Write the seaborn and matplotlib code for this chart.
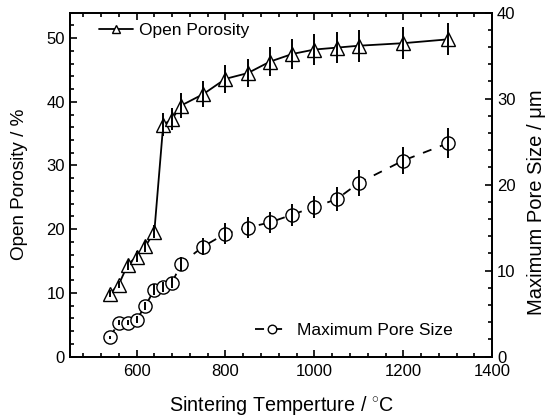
import matplotlib
matplotlib.use('Agg')
import matplotlib.pyplot as plt
import seaborn as sns
from matplotlib.ticker import MultipleLocator

# data
temperature = [540, 560, 580, 600, 620, 640, 660, 680, 700, 750, 800, 850, 900, 950, 1000, 1050, 1100, 1200, 1300]
porosity = [9.9, 11.3, 14.4, 15.7, 17.3, 19.6, 36.4, 37.3, 39.4, 41.2, 43.6, 44.5, 46.3, 47.5, 48.2, 48.5, 48.8, 49.2, 49.8]
porosity_err = [0.5, 0.6, 0.8, 0.8, 0.9, 1.0, 1.8, 1.8, 1.9, 2.0, 2.2, 2.2, 2.3, 2.4, 2.4, 2.4, 2.5, 2.5, 2.5]
pore_size = [2.25, 3.95, 3.95, 4.3, 5.9, 7.8, 8.1, 8.6, 10.8, 12.8, 14.3, 15.0, 15.6, 16.5, 17.4, 18.3, 20.2, 22.8, 24.8]
pore_err = [0.2, 0.3, 0.3, 0.4, 0.5, 0.6, 0.6, 0.6, 0.8, 1.0, 1.2, 1.2, 1.2, 1.3, 1.3, 1.4, 1.5, 1.6, 1.75]

sns.set_style('ticks')
plt.rcParams['font.family'] = ['Liberation Sans', 'DejaVu Sans']
plt.rcParams['mathtext.fontset'] = 'custom'
plt.rcParams['mathtext.rm'] = 'Liberation Sans'
plt.rcParams['text.color'] = 'black'
plt.rcParams['axes.labelcolor'] = 'black'
plt.rcParams['xtick.color'] = 'black'
plt.rcParams['ytick.color'] = 'black'

fig = plt.figure(figsize=(5.5, 4.2), dpi=100)
ax = fig.add_axes([0.127, 0.151, 0.768, 0.819])
ax2 = ax.twinx()

# open porosity (left axis)
sns.lineplot(x=temperature, y=porosity, ax=ax, color='black', lw=1.3, marker='^', markersize=9.5,
             markerfacecolor='white', markeredgecolor='black', markeredgewidth=1.0, label='Open Porosity')
ax.errorbar(temperature, porosity, yerr=porosity_err, fmt='none', ecolor='black', elinewidth=1.4, capsize=0, zorder=5)

# max pore size (right axis)
sns.lineplot(x=temperature, y=pore_size, ax=ax2, color='black', lw=1.3, marker='o', markersize=9.5,
             markerfacecolor='white', markeredgecolor='black', markeredgewidth=1.0, label='Maximum Pore Size')
ax2.lines[0].set_dashes([5, 5])
ax2.errorbar(temperature, pore_size, yerr=pore_err, fmt='none', ecolor='black', elinewidth=1.4, capsize=0, zorder=5)

ax.set_xlim(450, 1400)
ax.set_ylim(0, 54)
ax2.set_ylim(0, 40)

ax.xaxis.set_major_locator(MultipleLocator(200))
ax.xaxis.set_minor_locator(MultipleLocator(40))
ax.yaxis.set_major_locator(MultipleLocator(10))
ax.yaxis.set_minor_locator(MultipleLocator(2))
ax2.yaxis.set_major_locator(MultipleLocator(10))
ax2.yaxis.set_minor_locator(MultipleLocator(2))

ax.tick_params(which='both', direction='in', top=True, labelsize=12, width=1.2)
ax.tick_params(which='major', length=5)
ax.tick_params(which='minor', length=3)
ax.tick_params(axis='x', pad=5)
ax2.tick_params(which='both', direction='in', labelsize=12, width=1.2)
ax2.tick_params(which='major', length=5)
ax2.tick_params(which='minor', length=3)
for a in (ax, ax2):
    for s in a.spines.values():
        s.set_linewidth(1.3)
        s.set_color('black')

ax.set_xlabel('Sintering Temperture / $^{\\circ}$C', fontsize=14.2, labelpad=11)
ax.set_ylabel('Open Porosity / %', fontsize=13.6, labelpad=13)
ax2.set_ylabel('Maximum Pore Size / μm', fontsize=14.5)
ax2.yaxis.set_label_coords(1.082, 0.45)

ax.legend(loc='upper left', frameon=False, fontsize=12.5, markerscale=0.6, handlelength=2.0,
          handletextpad=0.3, borderaxespad=0, bbox_to_anchor=(0.052, 0.99))
ax2.legend(loc='lower right', frameon=False, fontsize=12.5, markerscale=0.65, handlelength=2.0,
           handletextpad=0.45, borderaxespad=0, bbox_to_anchor=(0.924, 0.035))

fig.savefig('out.png', dpi=100)
